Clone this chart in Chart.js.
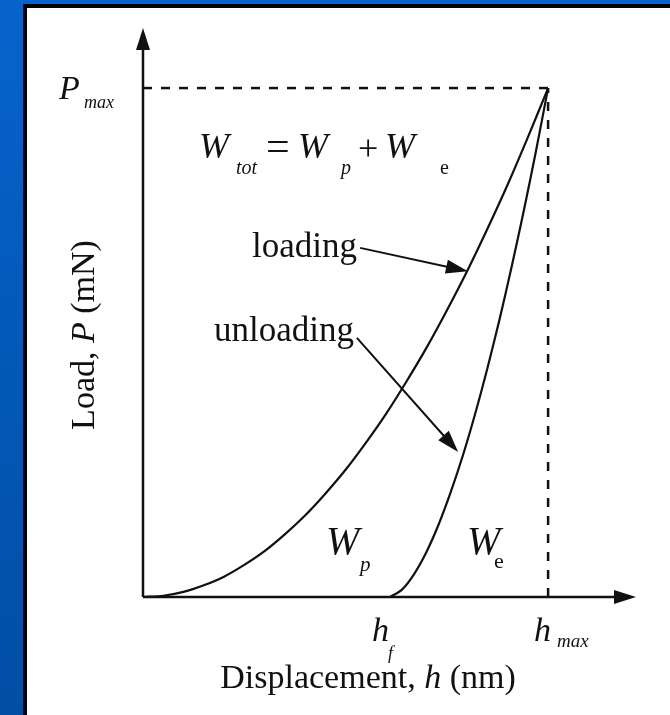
<!DOCTYPE html>
<html>
<head>
<meta charset="utf-8">
<script src="https://cdn.jsdelivr.net/npm/chart.js@4/dist/chart.umd.min.js"></script>
<style>
  html, body { margin: 0; padding: 0; }
  body {
    width: 670px; height: 715px; overflow: hidden; position: relative;
    background: linear-gradient(#0663cc, #014ea4);
  }
  #panel {
    position: absolute; left: 23px; top: 4px; right: 0; bottom: 0;
    background: #fff; border-left: 4px solid #000; border-top: 4px solid #000;
  }
  #chart { position: absolute; left: 0; top: 0; }
</style>
</head>
<body>
<div id="panel"></div>
<canvas id="chart" width="670" height="715"></canvas>
<script>
// ======================= DADOS =========================
// deslocamento h (h_max = 100) e carga P (P_max = 100)
const hLoading   = [0, 5, 10, 15, 20, 25, 30, 35, 40, 45, 50, 55, 60, 65, 70, 75, 80, 85, 90, 95, 100];
const pLoading   = [0, 0.25, 1, 2.3, 4, 6.3, 9, 12.3, 16, 20.3, 25, 30.3, 36, 42.3, 49, 56.3, 64, 72.3, 81, 90.3, 100];
const hUnloading = [61, 64, 67, 70, 73, 76, 79, 82, 85, 88, 91, 94, 97, 100];
const pUnloading = [0, 1.5, 4.6, 8.9, 14.3, 20.7, 27.9, 36, 44.9, 54.5, 64.9, 75.9, 87.6, 100];

const hF = 61;
const hMax = 100;
const pMax = 100;
const xAxisEnd = 121.7;
const yAxisEnd = 111.8;

// setas de anotação: [h0, P0, h1, P1]
const arrowLoading   = [53.6, 68.6, 80.2, 64.0];
const arrowUnloading = [52.8, 50.9, 77.8, 28.5];

const SERIF = '"Liberation Serif", "DejaVu Serif", serif';

function pts(xs, ys) { return xs.map((x, i) => ({ x, y: ys[i] })); }

// ================== DESENHO ==================
function arrowHead(ctx, x0, y0, x1, y1, len, half) {
  const a = Math.atan2(y1 - y0, x1 - x0);
  ctx.beginPath();
  ctx.moveTo(x1, y1);
  ctx.lineTo(x1 - len * Math.cos(a) + half * Math.sin(a), y1 - len * Math.sin(a) - half * Math.cos(a));
  ctx.lineTo(x1 - len * Math.cos(a) - half * Math.sin(a), y1 - len * Math.sin(a) + half * Math.cos(a));
  ctx.closePath();
  ctx.fill();
}

function txt(ctx, s, x, y, size, italic, align) {
  ctx.font = (italic ? "italic " : "") + size + "px " + SERIF;
  ctx.textAlign = align || "left";
  ctx.fillText(s, x, y);
}

// texto com trecho em itálico no meio (ex.: "Load, P (mN)")
function mixed(ctx, a, b, c, cx, y, size) {
  ctx.font = size + "px " + SERIF;
  const wa = ctx.measureText(a).width, wc = ctx.measureText(c).width;
  ctx.font = "italic " + size + "px " + SERIF;
  const wb = ctx.measureText(b).width;
  const sx = cx - (wa + wb + wc) / 2;
  txt(ctx, a, sx, y, size, false);
  txt(ctx, b, sx + wa, y, size, true);
  txt(ctx, c, sx + wa + wb, y, size, false);
}

const decorPlugin = {
  id: "decor",
  afterDatasetsDraw(chart) {
    const ctx = chart.ctx;
    const xs = chart.scales.x, ys = chart.scales.y;
    const X = v => xs.getPixelForValue(v);
    const Y = v => ys.getPixelForValue(v);
    ctx.save();
    ctx.fillStyle = "#111";
    ctx.strokeStyle = "#111";

    // eixos com setas
    ctx.lineWidth = 2.5;
    ctx.beginPath();
    ctx.moveTo(X(0), Y(0)); ctx.lineTo(X(0), Y(yAxisEnd) + 10);
    ctx.moveTo(X(0), Y(0)); ctx.lineTo(X(xAxisEnd) - 10, Y(0));
    ctx.stroke();
    arrowHead(ctx, X(0), Y(0), X(0), Y(yAxisEnd), 22, 7);
    arrowHead(ctx, X(0), Y(0), X(xAxisEnd), Y(0), 22, 7);

    // setas de anotação
    ctx.lineWidth = 2;
    [arrowLoading, arrowUnloading].forEach(a => {
      const x0 = X(a[0]), y0 = Y(a[1]), x1 = X(a[2]), y1 = Y(a[3]);
      const ang = Math.atan2(y1 - y0, x1 - x0);
      ctx.beginPath();
      ctx.moveTo(x0, y0);
      ctx.lineTo(x1 - 12 * Math.cos(ang), y1 - 12 * Math.sin(ang));
      ctx.stroke();
      arrowHead(ctx, x0, y0, x1, y1, 22, 7);
    });

    // textos
    ctx.textBaseline = "alphabetic";
    txt(ctx, "P", 59, Y(pMax) + 11, 34, true);
    txt(ctx, "max", 84, Y(pMax) + 20, 18, true);

    txt(ctx, "W", 199, 158, 36, true);
    txt(ctx, "tot", 236, 174, 20, true);
    txt(ctx, "=", 266, 160, 42, false);
    txt(ctx, "W", 298, 158, 36, true);
    txt(ctx, "p", 341, 174, 20, true);
    txt(ctx, "+", 358, 160, 36, false);
    txt(ctx, "W", 385, 158, 36, true);
    txt(ctx, "e", 440, 174, 20, false);

    txt(ctx, "loading", 252, 257, 35, false);
    txt(ctx, "unloading", 214, 341, 35, false);

    txt(ctx, "W", 326, 554, 40, true);
    txt(ctx, "p", 360, 571, 21, true);
    txt(ctx, "W", 467, 554, 40, true);
    txt(ctx, "e", 494, 568, 22, false);

    txt(ctx, "h", X(hF) - 18, Y(0) + 44, 34, true);
    txt(ctx, "f", X(hF) - 2, Y(0) + 62, 18, true);
    txt(ctx, "h", X(hMax) - 14, Y(0) + 44, 34, true);
    txt(ctx, "max", X(hMax) + 9, Y(0) + 50, 19, true);

    // títulos dos eixos
    mixed(ctx, "Displacement, ", "h", " (nm)", 368, 688, 34);

    ctx.save();
    ctx.translate(94, 335);
    ctx.rotate(-Math.PI / 2);
    mixed(ctx, "Load, ", "P", " (mN)", 0, 0, 34);
    ctx.restore();

    ctx.restore();
  }
};

// ================== GRÁFICO ==================
new Chart(document.getElementById("chart"), {
  type: "scatter",
  data: {
    datasets: [
      { data: pts(hLoading, pLoading), showLine: true, tension: 0.3, borderColor: "#111", borderWidth: 2.2, pointRadius: 0 },
      { data: pts(hUnloading, pUnloading), showLine: true, tension: 0.3, borderColor: "#111", borderWidth: 2.2, pointRadius: 0 },
      { data: [{ x: 0, y: pMax }, { x: hMax, y: pMax }], showLine: true, borderColor: "#111", borderWidth: 2.5, borderDash: [9, 9], pointRadius: 0 },
      { data: [{ x: hMax, y: 0 }, { x: hMax, y: pMax }], showLine: true, borderColor: "#111", borderWidth: 2.5, borderDash: [9, 9], pointRadius: 0 }
    ]
  },
  options: {
    responsive: false,
    animation: false,
    devicePixelRatio: 1,
    layout: { padding: { left: 143, right: 34, top: 28, bottom: 118 } },
    plugins: { legend: { display: false }, tooltip: { enabled: false } },
    scales: {
      x: { type: "linear", display: false, min: 0, max: xAxisEnd },
      y: { type: "linear", display: false, min: 0, max: yAxisEnd }
    }
  },
  plugins: [decorPlugin]
});
</script>
</body>
</html>
